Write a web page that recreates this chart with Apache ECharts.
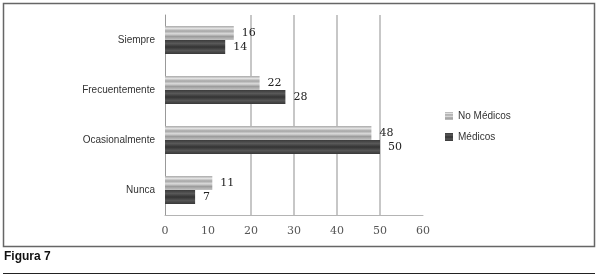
<!DOCTYPE html>
<html><head><meta charset="utf-8">
<script src="https://cdn.jsdelivr.net/npm/echarts@6/dist/echarts.min.js"></script>
<style>html,body{margin:0;padding:0;background:#fff}#c{width:600px;height:278px}</style>
</head><body><div id="c"></div>
<script>
const categories = ['Nunca', 'Ocasionalmente', 'Frecuentemente', 'Siempre'];
const noMedicos = [11, 48, 22, 16];
const medicos = [7, 50, 28, 14];
const xTicks = [0, 10, 20, 30, 40, 50, 60];

const lightFill = new echarts.graphic.LinearGradient(0, 0, 0, 1, [
  {offset: 0, color: '#a8a8a8'}, {offset: 0.18, color: '#e2e2e2'},
  {offset: 0.36, color: '#a4a4a4'}, {offset: 0.55, color: '#dadada'},
  {offset: 0.75, color: '#9c9c9c'}, {offset: 1, color: '#c4c4c4'}]);
const darkFill = new echarts.graphic.LinearGradient(0, 0, 0, 1, [
  {offset: 0, color: '#3a3a3a'}, {offset: 0.25, color: '#585858'},
  {offset: 0.5, color: '#333333'}, {offset: 0.75, color: '#555555'},
  {offset: 1, color: '#383838'}]);

const chart = echarts.init(document.getElementById('c'), null, {renderer: 'canvas'});
const lbl = {show: true, position: 'right', distance: 8, color: '#222', fontFamily: 'DejaVu Serif', fontSize: 11};
chart.setOption({
  animation: false,
  grid: {left: 165, right: 177, top: 15, bottom: 63},
  legend: {
    orient: 'vertical', left: 440, top: 106, itemWidth: 8, itemHeight: 8, itemGap: 11, icon: 'rect',
    textStyle: {color: '#333', fontSize: 10, fontFamily: 'Liberation Sans'},
    data: ['No Médicos', 'Médicos']
  },
  xAxis: {
    type: 'value', min: xTicks[0], max: xTicks[xTicks.length - 1], interval: 10,
    axisLine: {show: true, lineStyle: {color: '#b4b4b4', width: 1}},
    axisTick: {show: false},
    axisLabel: {color: '#555', fontFamily: 'DejaVu Serif', fontSize: 11, margin: 11},
    splitLine: {show: true, lineStyle: {color: ['rgba(0,0,0,0)', 'rgba(0,0,0,0)', '#b4b4b4', '#b4b4b4', '#b4b4b4', '#b4b4b4', 'rgba(0,0,0,0)'], width: 1.5}}
  },
  yAxis: {
    type: 'category', data: categories,
    axisLine: {show: true, lineStyle: {color: '#999', width: 1}},
    axisTick: {show: false},
    axisLabel: {color: '#333', fontSize: 10, fontFamily: 'Liberation Sans', margin: 10}
  },
  series: [
    {name: 'No Médicos', type: 'bar', data: noMedicos, barWidth: 14, barGap: '0%', itemStyle: {color: lightFill}, label: lbl},
    {name: 'Médicos', type: 'bar', data: medicos, barWidth: 14, barGap: '0%', itemStyle: {color: darkFill}, label: lbl}
  ],
  graphic: [
    {type: 'rect', shape: {x: 3.5, y: 3.5, width: 591, height: 243}, style: {fill: 'none', stroke: '#666', lineWidth: 1.5}, silent: true},
    {type: 'text', left: 4, top: 251, style: {text: 'Figura 7', fill: '#111', font: 'bold 12px "Liberation Sans Narrow", "Liberation Sans", sans-serif'}},
    {type: 'line', shape: {x1: 3, y1: 273.5, x2: 595, y2: 273.5}, style: {stroke: '#222', lineWidth: 1.2}}
  ]
});
</script></body></html>
